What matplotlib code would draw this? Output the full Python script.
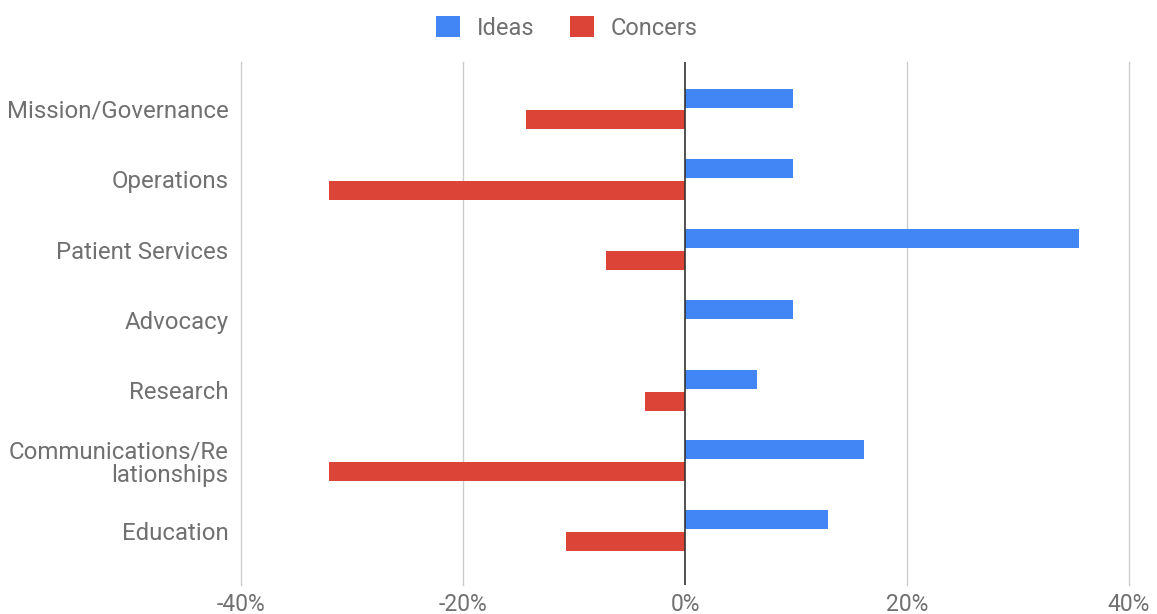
import matplotlib
matplotlib.use("Agg")
import matplotlib.pyplot as plt
import numpy as np
from matplotlib.ticker import FuncFormatter

categories = ["Mission/Governance", "Operations", "Patient Services", "Advocacy",
              "Research", "Communications/Re\nlationships", "Education"]
ideas = [9.7, 9.7, 35.5, 9.7, 6.5, 16.1, 12.9]
concerns = [-14.3, -32.1, -7.1, 0.0, -3.6, -32.1, -10.7]
series_names = ["Ideas", "Concers"]
xticks = [-40, -20, 0, 20, 40]

plt.rcParams['font.family'] = ['Roboto', 'DejaVu Sans']

fig = plt.figure(figsize=(11.57, 6.14), dpi=100)
ax = fig.add_axes([241/1157, 1-585/614, (1129-241)/1157, (585-62)/614])

y = np.arange(len(categories))
h = 0.27
off = 0.155
blue = "#4285f4"
red = "#db4437"
ax.barh(y - off, ideas, height=h, color=blue, linewidth=0,
        label=series_names[0], zorder=3)
ax.barh(y + off, concerns, height=h, color=red, linewidth=0,
        label=series_names[1], zorder=3)

ax.set_xlim(-40, 40)
ax.set_ylim(6.77, -0.668)
ax.set_xticks(xticks)
ax.xaxis.set_major_formatter(FuncFormatter(lambda v, p: f"{int(v)}%"))
ax.set_yticks(y)
ax.set_yticklabels(categories, ha="right", multialignment="right")
for t in ax.get_yticklabels():
    t.set_linespacing(1.05)

for xv in xticks:
    if xv == 0:
        continue
    ax.axvline(xv, color="#cccccc", linewidth=1, zorder=0, clip_on=False)
ax.axvline(0, color="#333333", linewidth=1.2, zorder=4)
for s in ax.spines.values():
    s.set_visible(False)
ax.tick_params(axis="both", length=0, colors="#707070")
ax.tick_params(axis="x", pad=6, labelsize=16.5)
ax.tick_params(axis="y", pad=9, labelsize=17.3)

leg = fig.legend(loc="upper center", bbox_to_anchor=(0.49, 1.008), ncol=2, frameon=False,
                 fontsize=17, handlelength=1.0, handleheight=1.0, columnspacing=1.5,
                 handletextpad=0.72, labelcolor="#707070")

fig.savefig("out.png", dpi=100)
